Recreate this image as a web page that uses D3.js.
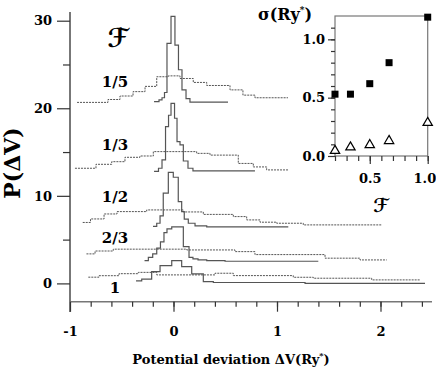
<!DOCTYPE html>
<html>
<head>
<meta charset="utf-8">
<script src="https://cdn.jsdelivr.net/npm/d3@7"></script>
<style>
  body{ margin:0; background:#fff; }
  svg text{ font-family:'DejaVu Serif', serif; font-weight:bold; fill:#000; }
</style>
</head>
<body>
<div id="chart"></div>
<script>

// Filling factors F and their labels.
const f_labels = [ '1/5', '1/3', '1/2', '2/3', '1' ];
const f_values = [ 0.2, 1/3, 0.5, 2/3, 1.0 ];

// Inset: sigma (Ry*) against F.
const sigma_squares = [ 0.53, 0.53, 0.62, 0.80, 1.19 ];
const sigma_triangles = [ 0.045, 0.075, 0.095, 0.13, 0.285 ];

// Histograms: bin edges in dV (Ry*) and plotted P(dV), offset included.
// Narrow ones are drawn solid, broad ones dotted.
const narrow_1_5_edges = [ -0.188, -0.14, -0.111, -0.087, -0.063, -0.024, 0.014, 0.048, 0.082, 0.121, 0.159, 0.527 ];
const narrow_1_5_p     = [ 20.75, 20.95, 21.2, 21.8, 27.4, 30.5, 27.2, 24.4, 22.1, 21.1, 20.7 ];
const broad_1_5_edges  = [ -0.932, -0.633, -0.517, -0.391, -0.275, -0.162, -0.05, 0.063, 0.191, 0.321, 0.546, 0.671, 0.787, 1.106 ];
const broad_1_5_p      = [ 20.67, 21.0, 21.4, 21.9, 22.5, 23.6, 23.7, 23.4, 22.95, 22.6, 22.1, 21.5, 21.2 ];

const narrow_1_3_edges = [ -0.188, -0.145, -0.111, -0.077, -0.048, -0.024, 0.01, 0.034, 0.063, 0.095, 0.14, 0.188, 0.787 ];
const narrow_1_3_p     = [ 12.79, 13.15, 14.1, 17.9, 19.2, 20.57, 18.86, 16.19, 15.81, 13.98, 13.15, 12.84 ];
const broad_1_3_edges  = [ -0.952, -0.749, -0.597, -0.469, -0.324, -0.195, 0.224, 0.353, 0.626, 0.771, 0.9, 1.109 ];
const broad_1_3_p      = [ 13.15, 13.6, 13.9, 14.4, 14.55, 15.05, 14.85, 14.65, 13.7, 13.3, 12.96 ];

const narrow_1_2_edges = [ -0.198, -0.162, -0.13, -0.099, -0.05, -0.002, 0.046, 0.079, 0.104, 0.143, 0.208, 0.321, 1.109 ];
const narrow_1_2_p     = [ 6.51, 6.87, 7.71, 10.3, 12.69, 12.12, 9.34, 8.2, 7.33, 6.87, 6.56, 6.45 ];
const broad_1_2_edges  = [ -0.877, -0.802, -0.671, -0.546, -0.259, 0.095, 0.288, 0.578, 0.707, 0.836, 0.997, 1.254, 2.012 ];
const broad_1_2_p      = [ 6.96, 7.36, 7.93, 8.2, 8.39, 8.16, 7.88, 7.63, 7.25, 6.99, 6.87, 6.68 ];

const narrow_2_3_edges = [ -0.28, -0.243, -0.201, -0.162, -0.126, -0.092, -0.063, -0.017, 0.095, 0.15, 0.188, 0.237, 0.321, 0.498, 1.399 ];
const narrow_2_3_p     = [ 2.6, 2.97, 3.37, 4.02, 4.74, 5.8, 6.22, 6.45, 4.2, 2.97, 2.8, 2.68, 2.6, 2.53 ];
const broad_2_3_edges  = [ -0.841, -0.758, -0.582, 0.128, 0.594, 0.787, 1.464, 1.802, 2.06 ];
const broad_2_3_p      = [ 3.37, 3.7, 3.91, 3.82, 3.63, 3.29, 2.88, 2.68 ];

const narrow_1_edges   = [ -0.362, -0.307, -0.211, -0.13, -0.017, 0.079, 0.176, 0.288, 0.385, 1.271, 2.43 ];
const narrow_1_p       = [ 0.29, 0.48, 1.35, 2.03, 2.6, 1.92, 1.08, 0.2, 0.1, 0.0 ];
const broad_1_edges    = [ -0.823, -0.72, -0.527, -0.34, -0.162, 0.401, 0.578, 1.157, 1.351, 1.915, 2.382 ];
const broad_1_p        = [ 0.71, 0.88, 1.11, 1.26, 0.97, 1.16, 0.89, 0.7, 0.59, 0.4 ];

// Tick labels.
const x_tick_values = [ -1, 0, 1, 2 ];
const x_tick_labels = [ '-1', '0', '1', '2' ];
const y_tick_values = [ 0, 10, 20, 30 ];
const inset_x_tick_values = [ 0.5, 1.0 ];
const inset_y_tick_values = [ 0.0, 0.5, 1.0 ];


// ---- layout ----
const width = 436, height = 369;
const frame = { left: 70, right: 432, top: 12, bottom: 301.7, ext: 312 };
const line_color = '#555';
const axis_color = '#777';

const curves = [
  { edges: narrow_1_5_edges, p: narrow_1_5_p, dotted: false },
  { edges: broad_1_5_edges,  p: broad_1_5_p,  dotted: true },
  { edges: narrow_1_3_edges, p: narrow_1_3_p, dotted: false },
  { edges: broad_1_3_edges,  p: broad_1_3_p,  dotted: true },
  { edges: narrow_1_2_edges, p: narrow_1_2_p, dotted: false },
  { edges: broad_1_2_edges,  p: broad_1_2_p,  dotted: true },
  { edges: narrow_2_3_edges, p: narrow_2_3_p, dotted: false },
  { edges: broad_2_3_edges,  p: broad_2_3_p,  dotted: true },
  { edges: narrow_1_edges,   p: narrow_1_p,   dotted: false },
  { edges: broad_1_edges,    p: broad_1_p,    dotted: true }
];

// Where the F labels sit, in data units (dV, P).
const f_label_x = -0.565;
const f_label_y = [ 22.43, 15.23, 9.29, 4.61, -1.08 ];

const svg = d3.select( '#chart' )
  .append( 'svg' )
    .attr( 'width', width )
    .attr( 'height', height );

const x = d3.scaleLinear().domain( [ -1, 2 ] ).range( [ 70, 380.5 ] );
const y = d3.scaleLinear().domain( [ 0, 30 ] ).range( [ 283.4, 20.7 ] );

// Axis lines.
svg.append( 'line' )
  .attr( 'x1', frame.left ).attr( 'x2', frame.left )
  .attr( 'y1', frame.top ).attr( 'y2', frame.ext )
  .attr( 'stroke', axis_color ).attr( 'stroke-width', 2 );
svg.append( 'line' )
  .attr( 'x1', frame.left ).attr( 'x2', frame.right )
  .attr( 'y1', frame.bottom ).attr( 'y2', frame.bottom )
  .attr( 'stroke', axis_color ).attr( 'stroke-width', 1.5 );

// Small helper so axes share the same look.
function style_axis( g ){
  g.select( '.domain' ).remove();
  g.selectAll( '.tick line' ).attr( 'stroke', '#333' ).attr( 'stroke-width', 1.2 );
  g.selectAll( 'text' )
    .attr( 'font-family', "'DejaVu Serif', serif" )
    .attr( 'font-weight', 'bold' )
    .attr( 'font-size', 13 )
    .attr( 'fill', '#000' );
}

// X axis: minor ticks every 0.2, majors with labels.
svg.append( 'g' )
  .attr( 'transform', 'translate(0,' + frame.bottom + ')' )
  .call( d3.axisBottom( x ).tickValues( d3.range( -0.8, 2.41, 0.2 ) ).tickSize( 5 ).tickFormat( '' ) )
  .call( style_axis );
svg.append( 'g' )
  .attr( 'transform', 'translate(0,' + frame.bottom + ')' )
  .call( d3.axisBottom( x ).tickValues( x_tick_values ).tickSize( 10 ).tickPadding( 15 )
    .tickFormat( ( d, i ) => x_tick_labels[i] ) )
  .call( style_axis );

// Y axis: minors at 5, 15, 25.
svg.append( 'g' )
  .attr( 'transform', 'translate(' + frame.left + ',0)' )
  .call( d3.axisLeft( y ).tickValues( [ 5, 15, 25 ] ).tickSize( 7 ).tickFormat( '' ) )
  .call( style_axis );
svg.append( 'g' )
  .attr( 'transform', 'translate(' + frame.left + ',0)' )
  .call( d3.axisLeft( y ).tickValues( y_tick_values ).tickSize( 13 ).tickPadding( 5 ).tickFormat( d => String( d ) ) )
  .call( style_axis );

// Histograms as step lines.
const step_line = d3.line()
  .x( d => x( d[0] ) )
  .y( d => y( d[1] ) )
  .curve( d3.curveStepAfter );

svg.selectAll( 'path.hist' )
  .data( curves )
  .enter()
  .append( 'path' )
    .attr( 'class', 'hist' )
    .attr( 'd', function( c ){
      var pts = c.p.map( ( v, i ) => [ c.edges[i], v ] );
      pts.push( [ c.edges[ c.edges.length - 1 ], c.p[ c.p.length - 1 ] ] );
      return step_line( pts );
    })
    .attr( 'fill', 'none' )
    .attr( 'stroke', line_color )
    .attr( 'stroke-width', c => c.dotted ? 1 : 1.2 )
    .attr( 'stroke-dasharray', c => c.dotted ? '2,1' : null );

// F labels next to each pair of histograms.
svg.selectAll( 'text.flabel' )
  .data( f_labels )
  .enter()
  .append( 'text' )
    .attr( 'class', 'flabel' )
    .attr( 'x', x( f_label_x ) )
    .attr( 'y', ( d, i ) => y( f_label_y[i] ) )
    .attr( 'text-anchor', 'middle' )
    .attr( 'font-size', 15 )
    .text( d => d );

svg.append( 'text' )
  .attr( 'x', 118 ).attr( 'y', 47 )
  .attr( 'text-anchor', 'middle' )
  .attr( 'font-size', 26 )
  .style( 'font-family', "'DejaVu Serif', 'DejaVu Sans', serif" )
  .style( 'font-style', 'italic' )
  .text( '\u2131' );

// Axis titles.
const x_title = svg.append( 'text' )
  .attr( 'x', 231 ).attr( 'y', 364 )
  .attr( 'text-anchor', 'middle' )
  .attr( 'font-size', 13 );
x_title.append( 'tspan' ).text( 'Potential deviation \u0394V(Ry' );
x_title.append( 'tspan' ).attr( 'dy', -6 ).attr( 'font-size', 8 ).text( '*' );
x_title.append( 'tspan' ).attr( 'dy', 6 ).text( ')' );

svg.append( 'g' )
  .attr( 'transform', 'translate(20,163)' )
  .append( 'text' )
    .attr( 'transform', 'rotate(-90)' )
    .attr( 'text-anchor', 'middle' )
    .attr( 'font-size', 22 )
    .text( 'P(\u0394V)' );


// ---- inset: sigma vs F ----
const xi = d3.scaleLinear().domain( [ 0.2, 1.0 ] ).range( [ 335, 427.7 ] );
const yi = d3.scaleLinear().domain( [ 0, 1.2 ] ).range( [ 156, 16 ] );

svg.append( 'rect' )
  .attr( 'x', xi( 0.2 ) ).attr( 'y', yi( 1.2 ) )
  .attr( 'width', xi( 1.0 ) - xi( 0.2 ) )
  .attr( 'height', yi( 0 ) - yi( 1.2 ) )
  .attr( 'fill', 'none' )
  .attr( 'stroke', axis_color )
  .attr( 'stroke-width', 1.2 );

svg.append( 'g' )
  .attr( 'transform', 'translate(0,' + yi( 0 ) + ')' )
  .call( d3.axisBottom( xi ).tickValues( d3.range( 0.2, 1.01, 0.1 ) ).tickSize( 5 ).tickFormat( '' ) )
  .call( style_axis );
const inset_x_axis = svg.append( 'g' )
  .attr( 'transform', 'translate(0,' + yi( 0 ) + ')' )
  .call( d3.axisBottom( xi ).tickValues( inset_x_tick_values ).tickSize( 8 ).tickPadding( 10 ).tickFormat( d3.format( '.1f' ) ) )
  .call( style_axis );
// Keep the last label inside the picture.
inset_x_axis.selectAll( 'text' ).filter( d => d === 1.0 ).attr( 'text-anchor', 'end' ).attr( 'dx', 8 );

svg.append( 'g' )
  .attr( 'transform', 'translate(' + xi( 0.2 ) + ',0)' )
  .call( d3.axisLeft( yi ).tickValues( d3.range( 0.1, 1.15, 0.1 ) ).tickSize( 4 ).tickFormat( '' ) )
  .call( style_axis );
svg.append( 'g' )
  .attr( 'transform', 'translate(' + xi( 0.2 ) + ',0)' )
  .call( d3.axisLeft( yi ).tickValues( inset_y_tick_values ).tickSize( 7 ).tickPadding( 3 ).tickFormat( d3.format( '.1f' ) ) )
  .call( style_axis );

// Filled squares.
svg.selectAll( 'rect.sq' )
  .data( sigma_squares )
  .enter()
  .append( 'rect' )
    .attr( 'class', 'sq' )
    .attr( 'x', ( d, i ) => xi( f_values[i] ) - 3.5 )
    .attr( 'y', d => yi( d ) - 3.5 )
    .attr( 'width', 7 ).attr( 'height', 7 )
    .attr( 'fill', '#000' );

// Open triangles.
svg.selectAll( 'path.tri' )
  .data( sigma_triangles )
  .enter()
  .append( 'path' )
    .attr( 'class', 'tri' )
    .attr( 'd', d3.symbol( d3.symbolTriangle ).size( 38 ) )
    .attr( 'transform', ( d, i ) => 'translate(' + xi( f_values[i] ) + ',' + yi( d ) + ')' )
    .attr( 'fill', '#fff' )
    .attr( 'stroke', '#000' )
    .attr( 'stroke-width', 1.2 );

const s_title = svg.append( 'text' )
  .attr( 'x', 258 ).attr( 'y', 20 )
  .attr( 'font-size', 16 );
s_title.append( 'tspan' ).text( '\u03C3(Ry' );
s_title.append( 'tspan' ).attr( 'dy', -7 ).attr( 'font-size', 9 ).text( '*' );
s_title.append( 'tspan' ).attr( 'dy', 7 ).text( ')' );

svg.append( 'text' )
  .attr( 'x', 381 ).attr( 'y', 212 )
  .attr( 'text-anchor', 'middle' )
  .attr( 'font-size', 19 )
  .style( 'font-family', "'DejaVu Serif', 'DejaVu Sans', serif" )
  .style( 'font-style', 'italic' )
  .text( '\u2131' );

</script>
</body>
</html>
